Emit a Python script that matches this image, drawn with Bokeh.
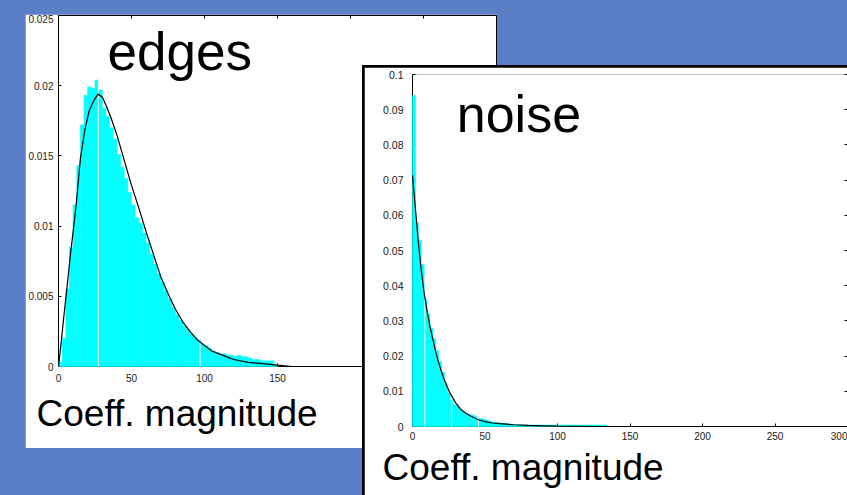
import numpy as np
from bokeh.embed import file_html
from bokeh.models import (ColumnDataSource, FixedTicker, GridBox, Label, LinearAxis,
                          PrintfTickFormatter, Range1d, Spacer)
from bokeh.plotting import figure
from bokeh.resources import INLINE

SLIDE_BLUE = "#5b7fc6"
HIST_CYAN = "#00ffff"
FONT = "Liberation Sans"
TICK_TEXT = "#1a1a1a"
AXIS_TITLE = "Coeff. magnitude"

# ---- edges: magnitude histogram (density) with fitted curve ----
edges_bin_width = 2.5
edges_density = [
    0.0003, 0.0020, 0.0055, 0.0085, 0.0115, 0.0143, 0.0172, 0.0193, 0.0199, 0.0198,
    0.0204, 0.0197, 0.0184, 0.0178, 0.0170, 0.0162, 0.0151, 0.0142, 0.0134, 0.0124,
    0.0115, 0.0106, 0.0102, 0.0095, 0.0088, 0.0080, 0.0073, 0.0066, 0.0060, 0.0054,
    0.0048, 0.0042, 0.0037, 0.0033, 0.0029, 0.0026, 0.0023, 0.0021, 0.0019, 0.0016,
    0.0015, 0.0013, 0.0011, 0.0010, 0.0009, 0.0009, 0.0008, 0.0008, 0.0007, 0.0008,
    0.0007, 0.0007, 0.0006, 0.0005, 0.0005, 0.0004, 0.0004, 0.0004, 0.0004, 0.0001,
]
edges_fit_x = [0, 2, 4, 6, 8, 10, 12, 15, 18, 21, 24, 27, 30, 33, 36, 40, 45, 50,
               55, 60, 65, 70, 75, 80, 85, 90, 95, 100, 105, 110, 115, 120, 130,
               140, 150, 160, 300]
edges_fit_y = [0.0, 0.0019, 0.0039, 0.0058, 0.0078, 0.0096, 0.0114, 0.0148, 0.0168,
               0.0182, 0.0189, 0.0194, 0.0192, 0.0185, 0.0177, 0.0165, 0.0147, 0.0129,
               0.0113, 0.0096, 0.0080, 0.0064, 0.0052, 0.0041, 0.0032, 0.0025, 0.0019,
               0.0015, 0.0011, 0.0009, 0.0007, 0.0005, 0.0003, 0.0002, 0.0001, 0.0, 0.0]
edges_white_marks = [27.3, 97.0]
edges_x_ticks = [0, 50, 100, 150]
edges_top_ticks = [0, 50, 100, 150, 200, 250, 300]
edges_y_ticks = [0, 0.005, 0.01, 0.015, 0.02, 0.025]

# ---- noise: magnitude histogram (density) with fitted curve ----
noise_bin_width = 2
noise_density = [
    0.0940, 0.0580, 0.0530, 0.0460, 0.0360, 0.0320, 0.0280, 0.0250, 0.0215, 0.0185,
    0.0155, 0.0122, 0.0095, 0.0075, 0.0062, 0.0058, 0.0050, 0.0043, 0.0037, 0.0035,
    0.0033, 0.0030, 0.0025, 0.0022, 0.0021, 0.0019, 0.0016, 0.0013, 0.0012, 0.0011,
    0.0010, 0.0009, 0.0008, 0.0007, 0.0006, 0.0005, 0.0005, 0.0004, 0.0004, 0.0004,
    0.0004, 0.0004, 0.0004, 0.0004, 0.0004, 0.0004, 0.0004, 0.0004, 0.0004, 0.0004,
    0.0004, 0.0004, 0.0004, 0.0004, 0.0004, 0.0004, 0.0004, 0.0004, 0.0004, 0.0004,
    0.0004, 0.0004, 0.0004, 0.0004, 0.0004, 0.0004, 0.0004,
]
noise_fit_x = [0, 2, 4, 6, 8, 10, 12, 14, 16, 18, 20, 22, 24, 26, 28, 30, 33, 36,
               40, 45, 50, 55, 60, 70, 80, 90, 100, 130, 300]
noise_fit_y = [0.0713, 0.0620, 0.0525, 0.0445, 0.0380, 0.0330, 0.0285, 0.0248,
               0.0212, 0.0182, 0.0155, 0.0132, 0.0112, 0.0094, 0.0080, 0.0066,
               0.0050, 0.0040, 0.0030, 0.0020, 0.0014, 0.0010, 0.0008, 0.0005,
               0.0003, 0.0002, 0.0001, 0.0, 0.0]
noise_white_marks = [8.5, 27.0, 45.5]
noise_x_ticks = [0, 50, 100, 150, 200, 250, 300]
noise_y_ticks = [0, 0.01, 0.02, 0.03, 0.04, 0.05, 0.06, 0.07, 0.08, 0.09, 0.1]


def style_axis(ax, ticks, labels=True, standoff=6, size="10.5px"):
    ax.ticker = FixedTicker(ticks=ticks)
    ax.formatter = PrintfTickFormatter(format="%g")
    ax.axis_line_color = "black"
    ax.axis_line_width = 1
    ax.major_tick_line_color = "black"
    ax.major_tick_in = 3
    ax.major_tick_out = 0
    ax.minor_tick_in = 0
    ax.minor_tick_out = 0
    ax.major_label_standoff = standoff
    ax.major_label_text_font = FONT
    ax.major_label_text_color = TICK_TEXT
    ax.major_label_text_font_size = size
    if not labels:
        # tick marks only on this side
        ax.major_label_text_color = None
        ax.major_label_standoff = 0


def hist_panel(width, height, y_top, borders, density, bin_width, fit_x, fit_y, marks,
               title_offset, title_standoff):
    p = figure(width=width, height=height,
               x_range=Range1d(0, 300), y_range=Range1d(0, y_top),
               output_backend="svg", toolbar_location=None,
               title=AXIS_TITLE, title_location="below",
               min_border_left=borders[0], min_border_right=borders[1],
               min_border_top=borders[2], min_border_bottom=borders[3],
               background_fill_color="white", border_fill_color="white")
    p.title.text_font = FONT
    p.title.text_font_size = "37px"
    p.title.text_font_style = "normal"
    p.title.text_color = "black"
    p.title.align = "left"
    p.title.vertical_align = "top"
    p.title.offset = title_offset
    p.title.standoff = title_standoff
    p.grid.visible = False
    left = np.arange(len(density)) * bin_width
    dens = np.array(density)
    src = ColumnDataSource(dict(left=left, right=left + bin_width, top=dens))
    p.quad(left="left", right="right", bottom=0, top="top", source=src,
           fill_color=HIST_CYAN, line_color=HIST_CYAN, line_width=0.6, level="annotation")
    mk = np.array(marks)
    idx = (mk // bin_width).astype(int)
    p.segment(x0=mk, y0=0, x1=mk, y1=dens[idx], line_color="white",
              line_width=1, level="annotation")
    p.line(fit_x, fit_y, line_color="black", line_width=1.2, level="annotation")
    return p


# left panel: edges
edges = hist_panel(472, 434, 0.025, (33, 1, 1, 82), edges_density, edges_bin_width,
                   edges_fit_x, edges_fit_y, edges_white_marks, -22, 16)
edges.outline_line_color = "black"
style_axis(edges.xaxis[0], edges_x_ticks, standoff=7, size="10px")
style_axis(edges.yaxis[0], edges_y_ticks, standoff=5, size="10px")
top_axis = LinearAxis()
edges.add_layout(top_axis, "above")
style_axis(top_axis, edges_top_ticks, labels=False)
edges.add_layout(Label(x=83, y=0.02244, text="edges", text_font=FONT,
                       text_font_size="53px", text_align="center",
                       text_baseline="alphabetic", text_color="black"))

# right panel: noise
noise = hist_panel(483, 428, 0.1, (48, 0, 7, 69), noise_density, noise_bin_width,
                   noise_fit_x, noise_fit_y, noise_white_marks, -30, 9)
noise.outline_line_color = None
style_axis(noise.xaxis[0], noise_x_ticks, standoff=5, size="10px")
style_axis(noise.yaxis[0], noise_y_ticks, standoff=9)
right_axis = LinearAxis()
noise.add_layout(right_axis, "right")
style_axis(right_axis, noise_y_ticks, labels=False)
right_axis.axis_line_color = None
noise.add_layout(Label(x=73.4, y=0.0889, text="noise", text_font=FONT,
                       text_font_size="52px", text_align="center",
                       text_baseline="alphabetic", text_color="black"))

frame_edge = Spacer(width=485, height=430, styles={"background-color": "black"})

page = GridBox(
    children=[(edges, 1, 1, 3, 3), (frame_edge, 2, 2, 3, 3), (noise, 3, 3, 2, 2)],
    rows=["14px", "51px", "2px", "381px", "47px"],
    cols=["25px", "337px", "2px", "133px", "350px"],
    spacing=0, width=847, height=495,
    styles={"background-color": SLIDE_BLUE},
)

open("out.html", "w").write(file_html(page, INLINE))
